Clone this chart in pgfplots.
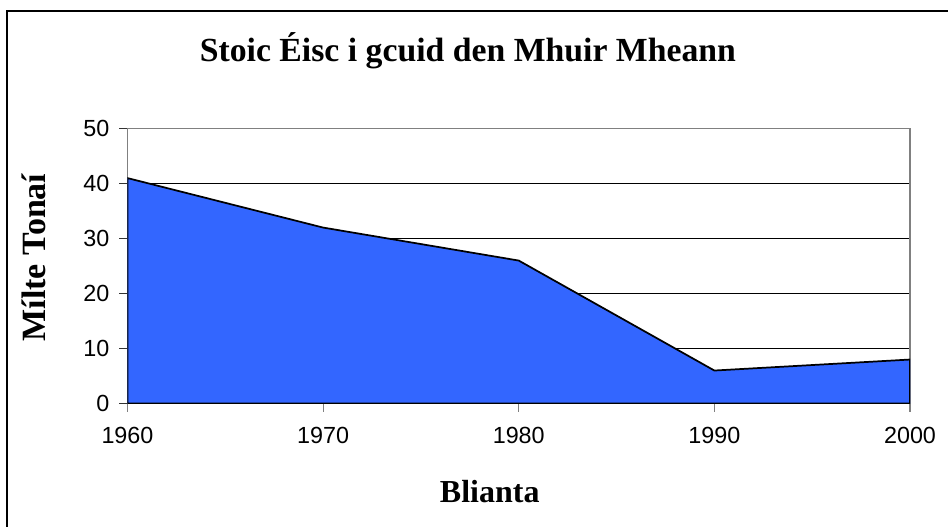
\documentclass[border=0pt]{standalone}
\usepackage{pgfplots}
\pgfplotsset{compat=1.18}
\usepackage{fontspec}
\setmainfont{Liberation Serif}
\newfontfamily\arial{Liberation Sans}
\definecolor{areablue}{HTML}{3366FF}
\definecolor{bordergray}{HTML}{808080}
\begin{document}
\begin{tikzpicture}[x=1pt,y=1pt]
\path[use as bounding box] (0,0) rectangle (711,395.25);
\draw[line width=1.5pt] (5.25,-10) rectangle (730,387.0);
\begin{axis}[
  at={(95.6pt,92.6pt)}, anchor=south west,
  scale only axis, width=586.9pt, height=206.2pt,
  xmin=1960, xmax=2000, ymin=0, ymax=50,
  xtick={1960,1970,...,2000}, ytick={0,10,...,50},
  /pgf/number format/1000 sep={},
  /pgf/number format/assume math mode=true,
  ticklabel style={font=\arial\fontsize{17.5}{20}\selectfont},
  tick align=outside, major tick length=6pt,
  xtick pos=bottom, ytick pos=left,
  xtick style={bordergray, line width=0.9pt},
  ytick style={black!80, line width=0.9pt},
  xticklabel style={yshift=-8pt},
  yticklabel style={xshift=-4pt},
  ymajorgrids, major grid style={black, line width=0.75pt},
  axis line style={bordergray, line width=1pt},
  title={\bfseries\fontsize{25.3}{28}\selectfont Stoic Éisc i gcuid den Mhuir Mheann},
  title style={at={(axis description cs:0.435,1.255)}, anchor=center},
  xlabel={\bfseries\fontsize{24}{28}\selectfont Blianta},
  xlabel style={at={(axis description cs:0.463,-0.32)}, anchor=center},
  ylabel={\bfseries\fontsize{25.5}{28}\selectfont Mílte Tonaí},
  ylabel style={at={(axis description cs:-0.12,0.531)}, anchor=center, rotate=0},
]
\addplot[fill=areablue, draw=black, line width=1.3pt] coordinates {
  (1960,41) (1970,32) (1980,26) (1990,6) (2000,8)
} \closedcycle;
\end{axis}
\end{tikzpicture}
\end{document}
